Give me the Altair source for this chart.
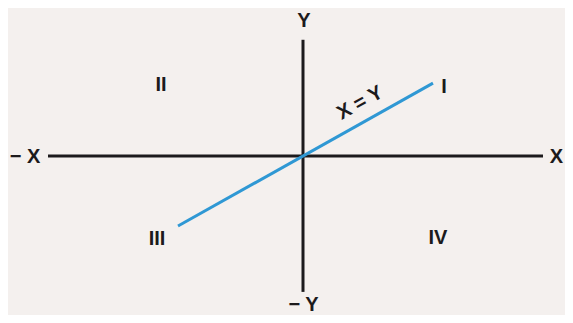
import altair as alt
import pandas as pd

# axis segments (data units)
axis_x1 = [-10.2, 0.0]
axis_x2 = [9.6, 0.0]
axis_y1 = [0.0, 8.3]
axis_y2 = [0.0, -9.71]

# X = Y line
line_x = [-5.0, 5.2]
line_y = [-5.0, 5.2]

# labels
label_text = ["Y", "− Y", "− X", "X", "II", "I", "III", "IV"]
label_x = [0.04, 0.02, -11.12, 10.14, -5.68, 5.64, -5.84, 5.4]
label_y = [9.64, -10.62, -0.07, -0.07, 5.07, 4.93, -5.93, -5.86]

eq_text = ["X = Y"]
eq_x = [2.28]
eq_y = [3.79]

xs = alt.Scale(domain=[-11.8, 10.48], nice=False, zero=False)
ys = alt.Scale(domain=[-11.36, 10.57], nice=False, zero=False)

axes_df = pd.DataFrame({"x": axis_x1, "x2": axis_x2, "y": axis_y1, "y2": axis_y2})
line_df = pd.DataFrame({"x": line_x, "y": line_y})
lab_df = pd.DataFrame({"t": label_text, "x": label_x, "y": label_y})
eq_df = pd.DataFrame({"t": eq_text, "x": eq_x, "y": eq_y})

axes = alt.Chart(axes_df).mark_rule(color="#1c1a1c", strokeWidth=3).encode(
    x=alt.X("x:Q", scale=xs, axis=None),
    x2="x2:Q",
    y=alt.Y("y:Q", scale=ys, axis=None),
    y2="y2:Q",
)

blue = alt.Chart(line_df).mark_line(color="#2f98d4", strokeWidth=3).encode(
    x=alt.X("x:Q", scale=xs, axis=None),
    y=alt.Y("y:Q", scale=ys, axis=None),
)

labels = alt.Chart(lab_df).mark_text(
    font="Liberation Sans", fontWeight="bold", fontSize=20, color="#1c1a1c",
    align="center", baseline="middle",
).encode(
    x=alt.X("x:Q", scale=xs, axis=None),
    y=alt.Y("y:Q", scale=ys, axis=None),
    text="t:N",
)

eq = alt.Chart(eq_df).mark_text(
    font="Liberation Sans", fontWeight="bold", fontSize=20, color="#1c1a1c",
    align="center", baseline="middle", angle=331,
).encode(
    x=alt.X("x:Q", scale=xs, axis=None),
    y=alt.Y("y:Q", scale=ys, axis=None),
    text="t:N",
)

chart = (axes + blue + labels + eq).properties(
    width=557, height=307,
    autosize=alt.AutoSizeParams(type="none"),
    padding=0,
    background="#f4f0ee",
).configure_view(stroke=None)

chart.save("out.html", embed_options={"renderer": "svg", "actions": False})
